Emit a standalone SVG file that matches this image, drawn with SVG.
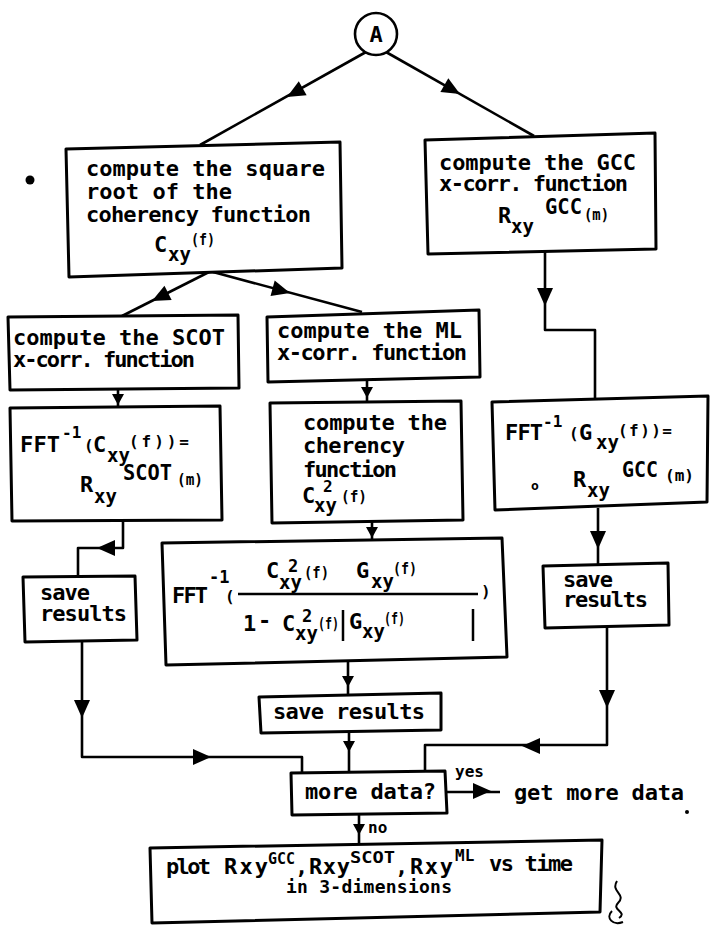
<svg xmlns="http://www.w3.org/2000/svg" xmlns:xlink="http://www.w3.org/1999/xlink" width="710" height="926" viewBox="0 0 710 926">
  <style>
    .box { fill: #fff; stroke: #000; stroke-width: 3; stroke-linejoin: round; }
    .t { font-family: "DejaVu Sans Mono", "Liberation Mono", monospace; font-weight: bold; font-size: 22px; fill: #000; }
    .sub { font-size: 19px; }
    .sm { font-size: 16px; }
    .c { fill: none; stroke: #000; stroke-width: 2.6; stroke-linejoin: round; }
    .ah { fill: #000; }
  </style>
  <defs>
    <path id="big" d="M0,0 L-18,-8 L-18,8 Z"/>
    <path id="small" d="M0,0 L-11,-6 L-11,6 Z"/>
  </defs>
  <rect width="710" height="926" fill="#fff"/>

  <!-- connectors -->
  <g id="connectors">
    <path class="c" d="M366,52 L200,145"/>
    <use class="ah" href="#big" transform="translate(287,97) rotate(150.7)"/>
    <path class="c" d="M386,52 L534,136"/>
    <use class="ah" href="#big" transform="translate(460,94) rotate(29.6)"/>
    <path class="c" d="M209,272 L122,316"/>
    <use class="ah" href="#big" transform="translate(152,301) rotate(153.2)"/>
    <path class="c" d="M213,272 L362,312"/>
    <use class="ah" href="#big" transform="translate(290,293) rotate(15)"/>
    <path class="c" d="M118,389 V408"/>
    <use class="ah" href="#small" transform="translate(118,405) rotate(90)"/>
    <path class="c" d="M123,520 V548 H78 V578"/>
    <use class="ah" href="#big" transform="translate(97,548) rotate(180)"/>
    <path class="c" d="M82,641 V757 H302 V773"/>
    <use class="ah" href="#big" transform="translate(82,718) rotate(90)"/>
    <use class="ah" href="#big" transform="translate(211,757)"/>
    <path class="c" d="M367,379 V403"/>
    <use class="ah" href="#small" transform="translate(367,398) rotate(90)"/>
    <path class="c" d="M372,522 V541"/>
    <use class="ah" href="#small" transform="translate(372,538) rotate(90)"/>
    <path class="c" d="M348,662 V696"/>
    <use class="ah" href="#small" transform="translate(348,687) rotate(90)"/>
    <path class="c" d="M349,732 V772"/>
    <use class="ah" href="#small" transform="translate(349,752) rotate(90)"/>
    <path class="c" d="M545,251 V330 H595 V400"/>
    <use class="ah" href="#big" transform="translate(545,306) rotate(90)"/>
    <path class="c" d="M598,508 V566"/>
    <use class="ah" href="#big" transform="translate(598,549) rotate(90)"/>
    <path class="c" d="M607,626 V745 H425 V772"/>
    <use class="ah" href="#big" transform="translate(607,708) rotate(90)"/>
    <use class="ah" href="#big" transform="translate(522,746) rotate(180)"/>
    <path class="c" d="M446,792 H500"/>
    <use class="ah" href="#big" transform="translate(491,791)"/>
    <text class="t sm" x="455" y="777">yes</text>
    <path class="c" d="M359,814 V844"/>
    <use class="ah" href="#small" transform="translate(359,835) rotate(90)"/>
    <text class="t sm" x="368" y="833">no</text>
  </g>

  <!-- off-page connector A -->
  <g id="nodeA">
    <circle cx="376" cy="34" r="21" fill="#fff" stroke="#000" stroke-width="2.6"/>
    <text class="t" x="376" y="42" text-anchor="middle">A</text>
  </g>

  <g id="sqrtCoherency">
    <polygon class="box" points="66,149 340,142 342,268 69,277"/>
    <text class="t" x="86" y="176" textLength="239" lengthAdjust="spacing">compute the square</text>
    <text class="t" x="86" y="199" textLength="146" lengthAdjust="spacing">root of the</text>
    <text class="t" x="86" y="222" textLength="225" lengthAdjust="spacing">coherency function</text>
    <text class="t" x="154" y="252">C</text>
    <text class="t sub" x="168" y="261">xy</text>
    <text class="t sm" x="191" y="245" textLength="24" lengthAdjust="spacingAndGlyphs">(f)</text>
  </g>

  <g id="gccCorr">
    <polygon class="box" points="425,140 655,133 656,249 428,254"/>
    <text class="t" x="439" y="170" textLength="197" lengthAdjust="spacing">compute the GCC</text>
    <text class="t" x="439" y="191" textLength="189" lengthAdjust="spacing">x-corr. function</text>
    <text class="t" x="498" y="223">R</text>
    <text class="t sub" x="511" y="233">xy</text>
    <text class="t" x="545" y="214" textLength="37" lengthAdjust="spacingAndGlyphs">GCC</text>
    <text class="t sm" x="584" y="220" textLength="25" lengthAdjust="spacingAndGlyphs">(m)</text>
  </g>

  <g id="scotCorr">
    <polygon class="box" points="8,317 238,315 239,388 10,390"/>
    <text class="t" x="13" y="345" textLength="212" lengthAdjust="spacing">compute the SCOT</text>
    <text class="t" x="13" y="367" textLength="182" lengthAdjust="spacing">x-corr. function</text>
  </g>

  <g id="mlCorr">
    <polygon class="box" points="267,317 479,310 480,377 268,382"/>
    <text class="t" x="277" y="338" textLength="185" lengthAdjust="spacing">compute the ML</text>
    <text class="t" x="277" y="360" textLength="190" lengthAdjust="spacing">x-corr. function</text>
  </g>

  <g id="scotFft">
    <polygon class="box" points="10,408 220,406 222,520 12,521"/>
    <text class="t" x="20" y="452" textLength="40" lengthAdjust="spacing">FFT</text>
    <text class="t sm" x="62" y="438">-1</text>
    <text class="t sm" x="84" y="451">(</text>
    <text class="t" x="93" y="452">C</text>
    <text class="t sub" x="107" y="462">xy</text>
    <text class="t sm" x="129" y="447" textLength="60" lengthAdjust="spacing">(f))=</text>
    <text class="t" x="80" y="492">R</text>
    <text class="t sub" x="94" y="503">xy</text>
    <text class="t" x="123" y="480" textLength="49" lengthAdjust="spacingAndGlyphs">SCOT</text>
    <text class="t sm" x="177" y="485" textLength="26" lengthAdjust="spacingAndGlyphs">(m)</text>
  </g>

  <g id="coherency">
    <polygon class="box" points="270,403 461,401 463,520 272,523"/>
    <text class="t" x="303" y="430" textLength="144" lengthAdjust="spacing">compute the</text>
    <text class="t" x="303" y="453" textLength="102" lengthAdjust="spacing">cherency</text>
    <text class="t" x="303" y="477" textLength="94" lengthAdjust="spacing">function</text>
    <text class="t" x="302" y="503">C</text>
    <text class="t sm" x="323" y="492">2</text>
    <text class="t sub" x="314" y="512">xy</text>
    <text class="t sm" x="341" y="502" textLength="26" lengthAdjust="spacingAndGlyphs">(f)</text>
  </g>

  <g id="gccFft">
    <polygon class="box" points="492,402 708,396 707,502 495,510"/>
    <text class="t" x="505" y="440" textLength="38" lengthAdjust="spacing">FFT</text>
    <text class="t sm" x="543" y="427">-1</text>
    <text class="t sm" x="569" y="439">(</text>
    <text class="t" x="579" y="440">G</text>
    <text class="t sub" x="596" y="449">xy</text>
    <text class="t sm" x="618" y="436" textLength="54" lengthAdjust="spacing">(f))=</text>
    <text class="t" x="531" y="490" style="font-size:13px">o</text>
    <text class="t" x="573" y="487">R</text>
    <text class="t sub" x="587" y="497">xy</text>
    <text class="t" x="622" y="477" textLength="36" lengthAdjust="spacingAndGlyphs">GCC</text>
    <text class="t sm" x="665" y="481" textLength="29" lengthAdjust="spacingAndGlyphs">(m)</text>
  </g>

  <g id="mlFormula">
    <polygon class="box" points="162,543 502,538 507,657 166,665"/>
    <text class="t" x="172" y="603" textLength="36" lengthAdjust="spacing">FFT</text>
    <text class="t" x="209" y="583" style="font-size:17px">-1</text>
    <text class="t sm" x="225" y="602">(</text>
    <path d="M238,594 H478" stroke="#000" stroke-width="2.5"/>
    <text class="t sm" x="481" y="597">)</text>
    <text class="t" x="266" y="578">C</text>
    <text class="t sub" x="279" y="589">xy</text>
    <text class="t" x="288" y="572" style="font-size:17px">2</text>
    <text class="t sm" x="304" y="578" textLength="25" lengthAdjust="spacingAndGlyphs">(f)</text>
    <text class="t" x="356" y="578">G</text>
    <text class="t sub" x="371" y="588">xy</text>
    <text class="t sm" x="393" y="574" textLength="24" lengthAdjust="spacingAndGlyphs">(f)</text>
    <text class="t" x="243" y="631">1</text>
    <text class="t" x="258" y="628">-</text>
    <text class="t" x="282" y="631">C</text>
    <text class="t sub" x="295" y="640">xy</text>
    <text class="t" x="302" y="622" style="font-size:17px">2</text>
    <text class="t sm" x="318" y="629" textLength="21" lengthAdjust="spacingAndGlyphs">(f)</text>
    <path d="M343,610 V641 M473,609 V641" stroke="#000" stroke-width="2.5"/>
    <text class="t" x="349" y="629">G</text>
    <text class="t sub" x="362" y="638">xy</text>
    <text class="t sm" x="384" y="624" textLength="21" lengthAdjust="spacingAndGlyphs">(f)</text>
  </g>

  <g id="saveScot">
    <polygon class="box" points="23,577 135,576 137,640 25,642"/>
    <text class="t" x="40" y="600" textLength="50" lengthAdjust="spacing">save</text>
    <text class="t" x="40" y="621" textLength="87" lengthAdjust="spacing">results</text>
  </g>

  <g id="saveMl">
    <polygon class="box" points="259,697 441,693 441,730 261,733"/>
    <text class="t" x="273" y="719" textLength="152" lengthAdjust="spacing">save results</text>
  </g>

  <g id="saveGcc">
    <polygon class="box" points="543,566 668,563 669,625 545,628"/>
    <text class="t" x="563" y="587" textLength="50" lengthAdjust="spacing">save</text>
    <text class="t" x="563" y="607" textLength="85" lengthAdjust="spacing">results</text>
  </g>

  <g id="moreData">
    <polygon class="box" points="291,773 445,771 447,813 292,815"/>
    <text class="t" x="305" y="799" textLength="131" lengthAdjust="spacing">more data?</text>
  </g>

  <g id="getMoreData">
    <text class="t" x="514" y="800" textLength="170" lengthAdjust="spacing">get more data</text>
    <circle cx="687" cy="812" r="2"/>
  </g>

  <g id="plot">
    <polygon class="box" points="150,848 602,840 600,912 152,923"/>
    <text class="t" x="166" y="874" textLength="45" lengthAdjust="spacing">plot</text>
    <text class="t" x="224" y="874" textLength="44" lengthAdjust="spacing">Rxy</text>
    <text class="t sm" x="268" y="864" textLength="27" lengthAdjust="spacingAndGlyphs">GCC</text>
    <text class="t" x="295" y="874" textLength="55" lengthAdjust="spacing">,Rxy</text>
    <text class="t sm" x="350" y="863" textLength="45" lengthAdjust="spacingAndGlyphs">SCOT</text>
    <text class="t" x="395" y="874" textLength="58" lengthAdjust="spacing">,Rxy</text>
    <text class="t sm" x="455" y="861">ML</text>
    <text class="t" x="489" y="871" textLength="84" lengthAdjust="spacing">vs time</text>
    <text class="t" x="286" y="893" style="font-size:18px" textLength="166" lengthAdjust="spacing">in 3-dimensions</text>
  </g>

  <!-- stray marks -->
  <circle cx="30" cy="180" r="4.5"/>
  <path d="M617,881 C610,892 627,894 618,903 C611,910 628,912 619,918 M612,911 C605,918 613,926 623,922" fill="none" stroke="#000" stroke-width="2"/>
</svg>
